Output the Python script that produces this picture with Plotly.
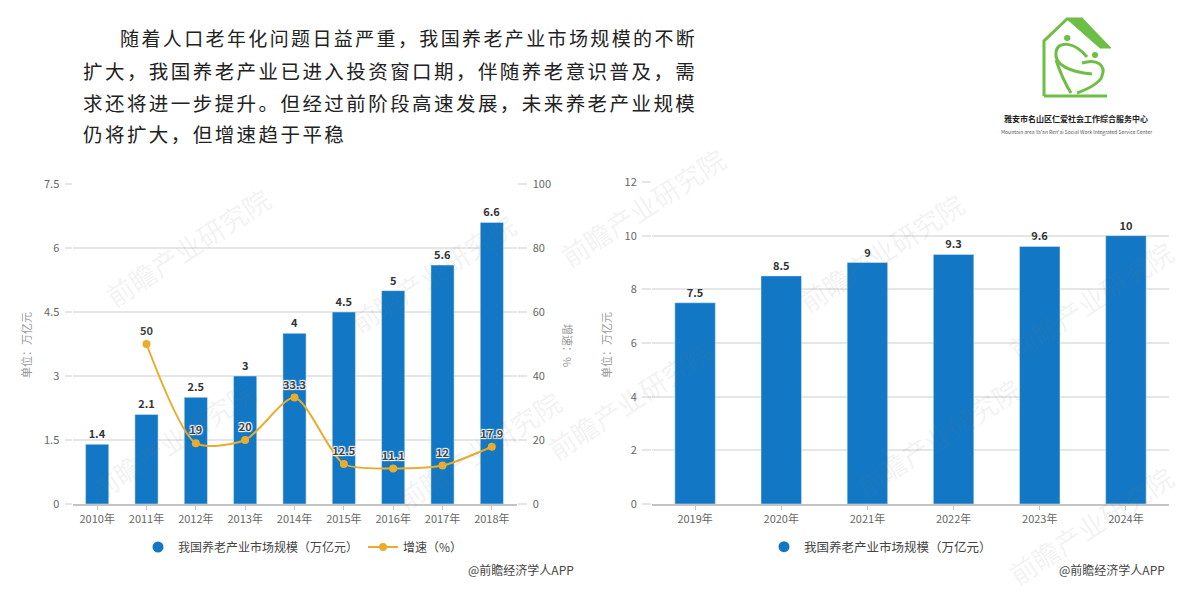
import plotly.graph_objects as go

W, H = 1200, 596
FONT = 'Noto Sans CJK SC'
BLUE = '#1277c4'
YELLOW = '#e8ad2c'
GREEN = '#6cbe45'
GRID = '#e6e6e6'

# left chart
years_a = ['2010年', '2011年', '2012年', '2013年', '2014年', '2015年', '2016年', '2017年', '2018年']
size_a = [1.4, 2.1, 2.5, 3, 4, 4.5, 5, 5.6, 6.6]
growth_a = [None, 50, 19, 20, 33.3, 12.5, 11.1, 12, 17.9]
left_ticks = [0, 1.5, 3, 4.5, 6, 7.5]
right_ticks = [0, 20, 40, 60, 80, 100]

# right chart
years_b = ['2019年', '2020年', '2021年', '2022年', '2023年', '2024年']
size_b = [7.5, 8.5, 9, 9.3, 9.6, 10]
ticks_b = [0, 2, 4, 6, 8, 10, 12]

paragraph = [
    '随着人口老年化问题日益严重，我国养老产业市场规模的不断',
    '扩大，我国养老产业已进入投资窗口期，伴随养老意识普及，需',
    '求还将进一步提升。但经过前阶段高速发展，未来养老产业规模',
    '仍将扩大，但增速趋于平稳',
]
paragraph_x = [118, 81, 81, 81]
paragraph_y = [37, 70, 102, 133]
paragraph_size = [19, 19.5, 19.5, 19.5]

watermarks = [(187, 247), (432, 273), (172, 440), (478, 450), (642, 207), (881, 253),
              (629, 400), (937, 437), (1090, 300), (1090, 525)]


def px(x):
    return x / W


def py(y):
    return 1 - y / H


def note(x, y, text, size=11, color='#333', anchor='left', angle=0):
    return dict(x=px(x), y=py(y), xref='paper', yref='paper', text=text, showarrow=False,
                xanchor=anchor, yanchor='middle', textangle=angle,
                font=dict(family=FONT, size=size, color=color))


def logo_path(points):
    # points are pixel positions of the logo, turned into paper coordinates
    out = ''
    for cmd, pts in points:
        out += cmd + ' '.join(f'{px(x):.5f},{py(y):.5f}' for x, y in pts) + ' '
    return out.strip()


fig = go.Figure()

# left chart
fig.add_trace(go.Bar(x=years_a, y=size_a, marker_color=BLUE, width=0.47, showlegend=False,
                     text=[str(v) for v in size_a], textposition='outside', cliponaxis=False,
                     textfont=dict(family=FONT, size=11, color='#333', weight='bold')))
fig.add_trace(go.Scatter(x=years_a, y=growth_a, yaxis='y2', mode='lines+markers+text', name='增速（%）',
                         line=dict(color=YELLOW, width=2, shape='spline', smoothing=0.7),
                         marker=dict(color=YELLOW, size=8),
                         text=['' if v is None else str(v) for v in growth_a], textposition='top center',
                         textfont=dict(family=FONT, size=11, color='#444', weight='bold',
                                       shadow='1px 1px 1px #fff, -1px -1px 1px #fff, 1px -1px 1px #fff, -1px 1px 1px #fff'),
                         legend='legend'))
fig.add_trace(go.Scatter(x=[None], y=[None], mode='markers', name='我国养老产业市场规模（万亿元）',
                         marker=dict(color=BLUE, size=11), legendrank=1, legend='legend'))

# right chart
fig.add_trace(go.Bar(x=years_b, y=size_b, xaxis='x2', yaxis='y3', marker_color=BLUE, width=0.47, showlegend=False,
                     text=[str(v) for v in size_b], textposition='outside', cliponaxis=False,
                     textfont=dict(family=FONT, size=11, color='#333', weight='bold')))
fig.add_trace(go.Scatter(x=[None], y=[None], xaxis='x2', yaxis='y3', mode='markers', name='我国养老产业市场规模（万亿元）',
                         marker=dict(color=BLUE, size=11), legend='legend2'))

tick_font = dict(family=FONT, size=11, color='#666')
x_style = dict(type='category', showline=True, linecolor='#c4c4c4', linewidth=1.5, ticks='outside', ticklen=4,
               tickcolor='#c4c4c4', tickfont=tick_font, showgrid=False, zeroline=False)
y_style = dict(showline=False, zeroline=False, ticks='outside', tickcolor=GRID, tickfont=tick_font,
               gridcolor=GRID, gridwidth=1.5, tickwidth=1.5, ticklabelstandoff=3)

annotations = [note(x, y, '\u200a\u200a'.join(t), size=s, color='#222')
               for x, y, t, s in zip(paragraph_x, paragraph_y, paragraph, paragraph_size)]
annotations += [
    note(26, 345, '单位：万亿元', color='#999', anchor='center', angle=-90),
    note(568, 345, '增速：%', color='#999', anchor='center', angle=90),
    note(606, 345, '单位：万亿元', color='#999', anchor='center', angle=-90),
    note(466, 569, '@前瞻经济学人APP', size=12, color='#444'),
    note(1057, 569, '@前瞻经济学人APP', size=12, color='#444'),
    note(1076, 118, '<b>雅安市名山区仁爱社会工作综合服务中心</b>', size=8, color='#222', anchor='center'),
    note(1076, 132, "Mountain area Ya'an Ren'ai Social Work Integrated Service Center", size=5, color='#555', anchor='center'),
]
annotations += [note(x, y, '前瞻产业研究院', size=27, color='rgba(120,120,120,0.10)', anchor='center', angle=-33)
                for x, y in watermarks]

logo_line = dict(color=GREEN, width=3)
shapes = [
    # house outline
    dict(type='path', xref='paper', yref='paper', line=logo_line,
         path=logo_path([('M', [(1044, 96)]), ('L', [(1044, 41)]), ('L', [(1067, 19)]), ('L', [(1083, 19)]),
                         ('L', [(1083, 19)]), ('M', [(1044, 96)]), ('L', [(1107, 96)])])),
    # filled roof
    dict(type='path', xref='paper', yref='paper', fillcolor=GREEN, line=dict(color=GREEN, width=1),
         path=logo_path([('M', [(1067, 19)]), ('L', [(1083, 19)]), ('L', [(1111, 48)]), ('L', [(1100, 48)]), ('Z', [])])),
    # two figures
    dict(type='path', xref='paper', yref='paper', line=logo_line,
         path=logo_path([('M', [(1087, 57)]), ('C', [(1075, 42), (1058, 40), (1056, 52)]),
                         ('C', [(1054, 65), (1070, 72), (1092, 74)])])),
    dict(type='path', xref='paper', yref='paper', line=logo_line,
         path=logo_path([('M', [(1082, 63)]), ('C', [(1098, 58), (1106, 66), (1102, 76)]),
                         ('C', [(1100, 84), (1085, 90), (1077, 93)])])),
    dict(type='path', xref='paper', yref='paper', line=logo_line,
         path=logo_path([('M', [(1056, 60)]), ('C', [(1060, 72), (1066, 85), (1071, 93)])])),
    dict(type='circle', xref='paper', yref='paper', fillcolor=GREEN, line=dict(color=GREEN, width=0),
         x0=px(1064), x1=px(1070.5), y0=py(41), y1=py(35)),
    dict(type='circle', xref='paper', yref='paper', fillcolor=GREEN, line=dict(color=GREEN, width=0),
         x0=px(1092), x1=px(1098), y0=py(58), y1=py(52)),
]

fig.update_layout(
    width=W, height=H, margin=dict(l=0, r=0, t=0, b=0, autoexpand=False), paper_bgcolor='white', plot_bgcolor='white',
    font=dict(family=FONT),
    xaxis=dict(domain=[px(72.5), px(516.5)], range=[-0.5, 8.5], anchor='y', **x_style),
    yaxis=dict(domain=[py(504), py(184)], range=[0, 7.5], tickvals=left_ticks, ticklen=7, **y_style),
    yaxis2=dict(domain=[py(504), py(184)], range=[0, 100], tickvals=right_ticks, overlaying='y', side='right',
                showgrid=False, ticks='outside', ticklen=9, tickcolor=GRID, tickwidth=1.5, tickfont=tick_font,
                zeroline=False, showline=False, ticklabelstandoff=4),
    xaxis2=dict(domain=[px(652), px(1169)], range=[-0.5, 5.5], anchor='y3', **x_style),
    yaxis3=dict(domain=[py(504), py(182)], range=[0, 12], tickvals=ticks_b, anchor='x2', ticklen=9, **y_style),
    legend=dict(x=px(138), y=py(547), xanchor='left', yanchor='middle', orientation='h',
                font=dict(family=FONT, size=12, color='#444'), bgcolor='rgba(0,0,0,0)', traceorder='normal'),
    legend2=dict(x=px(764), y=py(547), xanchor='left', yanchor='middle', orientation='h',
                 font=dict(family=FONT, size=12.5, color='#444'), bgcolor='rgba(0,0,0,0)'),
    annotations=annotations,
    shapes=shapes,
)

fig.write_html("out.html", config=dict(displayModeBar=False), post_script="document.body.style.margin='0'")
